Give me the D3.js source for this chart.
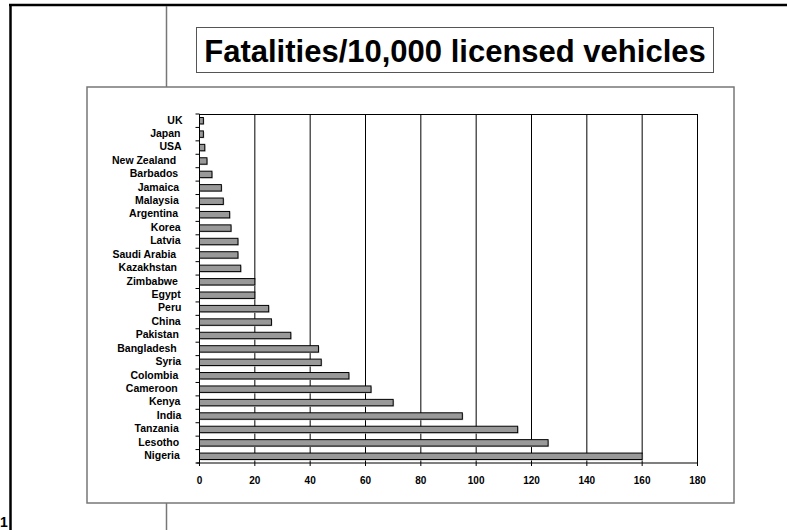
<!DOCTYPE html>
<html>
<head>
<meta charset="utf-8">
<script src="https://cdn.jsdelivr.net/npm/d3@7"></script>
<style>
  html, body { margin: 0; padding: 0; background: #fff; }
  svg { display: block; font-family: "Liberation Sans", Arial, sans-serif; }
</style>
</head>
<body>
<script>
// Road fatalities per 10,000 licensed vehicles, by country (top to bottom)
const countries = [
  "UK", "Japan", "USA", "New Zealand", "Barbados", "Jamaica", "Malaysia",
  "Argentina", "Korea", "Latvia", "Saudi Arabia", "Kazakhstan", "Zimbabwe",
  "Egypt", "Peru", "China", "Pakistan", "Bangladesh", "Syria", "Colombia",
  "Cameroon", "Kenya", "India", "Tanzania", "Lesotho", "Nigeria"
];
const fatalities = [
  1.4, 1.4, 1.9, 2.7, 4.5, 7.9, 8.6,
  10.9, 11.4, 13.9, 13.9, 14.9, 20,
  20, 25, 26, 33, 43, 44, 54,
  62, 70, 95, 115, 126, 160
];
const xTicks = [0, 20, 40, 60, 80, 100, 120, 140, 160, 180];
const titleText = "Fatalities/10,000 licensed vehicles";

const W = 787, H = 530;
const svg = d3.select("body").append("svg").attr("width", W).attr("height", H);

// Page frame: heavy rule along top and left, thin gray divider
svg.append("line").attr("x1", 9).attr("x2", W).attr("y1", 5).attr("y2", 5)
  .attr("stroke", "#000").attr("stroke-width", 2.5);
svg.append("line").attr("x1", 10.5).attr("x2", 10.5).attr("y1", 4).attr("y2", H)
  .attr("stroke", "#000").attr("stroke-width", 2.5);
svg.append("line").attr("x1", 166.5).attr("x2", 166.5).attr("y1", 6).attr("y2", 87)
  .attr("stroke", "#777").attr("stroke-width", 1.5);
svg.append("line").attr("x1", 166.5).attr("x2", 166.5).attr("y1", 503).attr("y2", H)
  .attr("stroke", "#777").attr("stroke-width", 1.5);

// Page number at the left margin
svg.append("text").attr("x", 0).attr("y", 527).attr("text-anchor", "start")
  .attr("font-size", 14).attr("font-weight", "bold").text("1");

// Chart frame
svg.append("rect").attr("x", 87).attr("y", 87).attr("width", 647).attr("height", 416)
  .attr("fill", "#fff").attr("stroke", "#777").attr("stroke-width", 1.5);

// Title box
svg.append("rect").attr("x", 196.5).attr("y", 27.5).attr("width", 517).attr("height", 45)
  .attr("fill", "#fff").attr("stroke", "#555").attr("stroke-width", 1);
svg.append("text").attr("x", 455).attr("y", 61.5).attr("text-anchor", "middle")
  .attr("font-size", 31).attr("font-weight", "bold").attr("fill", "#000")
  .text(titleText);

// Plot scales
const plot = { left: 199.5, right: 697.5, top: 114, bottom: 463 };
const x = d3.scaleLinear().domain([0, 180]).range([plot.left, plot.right]);
const y = d3.scaleBand().domain(countries).range([plot.top, plot.bottom]);
const bw = y.bandwidth();
const barH = bw * 0.48;

const g = svg.append("g");

// Vertical gridlines
g.selectAll("line.grid").data(xTicks.slice(1)).join("line")
  .attr("class", "grid")
  .attr("x1", d => x(d)).attr("x2", d => x(d))
  .attr("y1", plot.top).attr("y2", plot.bottom)
  .attr("stroke", "#000").attr("stroke-width", 1);

// Top edge of plot area
g.append("line").attr("x1", plot.left).attr("x2", plot.right)
  .attr("y1", plot.top + 0.5).attr("y2", plot.top + 0.5)
  .attr("stroke", "#000").attr("stroke-width", 1);

// Bars with a light drop shadow
const bars = g.selectAll("g.bar").data(countries).join("g").attr("class", "bar");
bars.append("rect")
  .attr("x", plot.left + 1)
  .attr("y", d => y(d) + (bw - barH) / 2 + 1)
  .attr("width", (d, i) => x(fatalities[i]) - x(0))
  .attr("height", barH)
  .attr("fill", "#c8c8c8");
bars.append("rect")
  .attr("x", plot.left)
  .attr("y", d => y(d) + (bw - barH) / 2)
  .attr("width", (d, i) => x(fatalities[i]) - x(0))
  .attr("height", barH)
  .attr("fill", "#999")
  .attr("stroke", "#000").attr("stroke-width", 1);

// Y axis with outward ticks at band boundaries
g.append("line").attr("x1", plot.left).attr("x2", plot.left)
  .attr("y1", plot.top).attr("y2", plot.bottom + 3)
  .attr("stroke", "#000").attr("stroke-width", 1);
const boundaries = countries.map(c => y(c)).concat([plot.bottom]);
g.selectAll("line.ytick").data(boundaries).join("line")
  .attr("class", "ytick")
  .attr("x1", plot.left - 4).attr("x2", plot.left)
  .attr("y1", d => d).attr("y2", d => d)
  .attr("stroke", "#000").attr("stroke-width", 1);

// Category labels, set slightly inward in proportion to their length
const labels = g.selectAll("text.cat").data(countries).join("text")
  .attr("class", "cat")
  .attr("text-anchor", "end")
  .attr("font-size", 10.5).attr("font-weight", "bold")
  .attr("y", d => y(d) + bw / 2 + 2.8)
  .text(d => d);
labels.attr("x", function () { return 184.5 - 0.13 * this.getComputedTextLength(); });

// X axis
g.append("line").attr("x1", plot.left - 3).attr("x2", plot.right)
  .attr("y1", plot.bottom).attr("y2", plot.bottom)
  .attr("stroke", "#000").attr("stroke-width", 1.2);
g.selectAll("line.xtick").data(xTicks).join("line")
  .attr("class", "xtick")
  .attr("x1", d => x(d)).attr("x2", d => x(d))
  .attr("y1", plot.bottom).attr("y2", plot.bottom + 3)
  .attr("stroke", "#000").attr("stroke-width", 1);
g.selectAll("text.xlab").data(xTicks).join("text")
  .attr("class", "xlab")
  .attr("x", d => x(d)).attr("y", 483.6)
  .attr("text-anchor", "middle")
  .attr("font-size", 10).attr("font-weight", "bold")
  .text(d => d);
</script>
</body>
</html>
